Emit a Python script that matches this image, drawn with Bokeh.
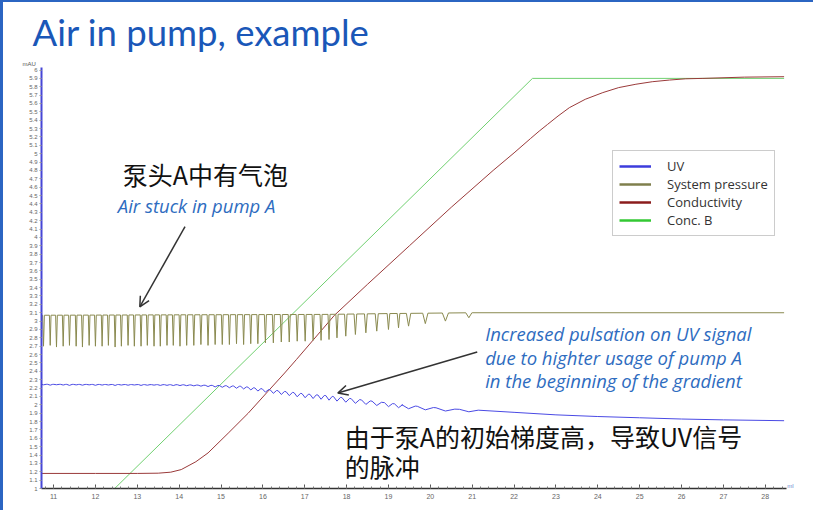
import numpy as np
from bokeh.plotting import figure
from bokeh.models import (Range1d, FixedTicker, Label, Arrow, OpenHead,
                          Legend, LegendItem, Title)
from bokeh.embed import file_html
from bokeh.resources import INLINE

# ---------------- chromatogram data (x in ml, y on the mAU scale) ----------------
# Conc. B gradient
concb_x = [10.712, 12.46, 22.44, 28.45]
concb_y = [1.0, 1.0, 5.90, 5.90]

# Conductivity
cond_x = [10.712, 12.0, 13.0, 13.5, 13.8, 14.05, 14.4, 14.69, 15.17, 15.65, 16.12,
          16.52, 16.80, 17.71, 18.5, 19.5, 20.5, 21.5, 22.0, 22.39, 22.6, 22.8,
          23.05, 23.32, 23.7, 24.12, 24.5, 24.91, 25.3, 25.71, 26.1, 26.51, 27.5, 28.45]
cond_y = [1.18, 1.18, 1.18, 1.183, 1.195, 1.226, 1.32, 1.425, 1.66, 1.90, 2.16,
          2.38, 2.54, 3.07, 3.44, 3.90, 4.36, 4.80, 5.01, 5.18, 5.27, 5.35,
          5.45, 5.55, 5.65, 5.73, 5.79, 5.83, 5.86, 5.88, 5.895, 5.90, 5.915, 5.92]

# UV trace level between pump strokes
uv_base_x = [10.712, 14.0, 15.0, 15.5, 16.0, 16.5, 17.0, 17.5, 18.0, 18.5, 19.0,
             19.5, 20.0, 20.5, 21.0, 22.0, 23.0, 24.0, 25.0, 26.0, 27.0, 28.45]
uv_base_y = [2.245, 2.24, 2.23, 2.22, 2.19, 2.16, 2.13, 2.11, 2.08, 2.05, 2.02,
             1.99, 1.97, 1.95, 1.94, 1.91, 1.88, 1.86, 1.845, 1.83, 1.82, 1.81]

# System pressure level between pump strokes
pres_base_x = [10.712, 14.0, 17.5, 19.0, 21.0, 28.45]
pres_base_y = [3.07, 3.075, 3.08, 3.09, 3.10, 3.10]

# Pump A strokes: position, lowest pressure reached, UV dip
pulse_x = [10.76, 10.92, 11.07, 11.23, 11.38, 11.54, 11.69, 11.85, 12.00, 12.16, 12.31,
           12.47, 12.62, 12.78, 12.93, 13.09, 13.24, 13.40, 13.55, 13.71, 13.86, 14.02,
           14.18, 14.35, 14.52, 14.69, 14.86, 15.03, 15.20, 15.37, 15.54, 15.71, 15.88,
           16.06, 16.25, 16.44, 16.63, 16.82, 17.01, 17.20, 17.39, 17.58, 17.77,
           17.98, 18.21, 18.46, 18.72, 19.00, 19.24, 19.48, 19.88, 20.36, 20.92]
pulse_low = [2.70, 2.71, 2.69, 2.70, 2.71, 2.70, 2.69, 2.71, 2.70, 2.70, 2.71,
             2.69, 2.70, 2.71, 2.70, 2.70, 2.71, 2.70, 2.70, 2.71, 2.71, 2.70,
             2.71, 2.71, 2.72, 2.71, 2.72, 2.72, 2.72, 2.73, 2.72, 2.73, 2.73,
             2.74, 2.74, 2.75, 2.75, 2.76, 2.76, 2.77, 2.77, 2.78, 2.80,
             2.82, 2.84, 2.86, 2.88, 2.90, 2.92, 2.94, 2.97, 3.00, 3.04]
uv_dip = [0.006, 0.010, 0.005, 0.008, 0.012, 0.006, 0.009, 0.005, 0.010, 0.007, 0.006,
          0.011, 0.006, 0.008, 0.005, 0.010, 0.007, 0.006, 0.009, 0.008, 0.010, 0.010,
          0.010, 0.010, 0.012, 0.015, 0.018, 0.020, 0.022, 0.025, 0.028, 0.030, 0.033,
          0.035, 0.038, 0.040, 0.042, 0.045, 0.045, 0.047, 0.048, 0.050, 0.050,
          0.050, 0.050, 0.048, 0.045, 0.042, 0.040, 0.038, 0.035, 0.030, 0.025]

x_ticks = [11, 12, 13, 14, 15, 16, 17, 18, 19, 20, 21, 22, 23, 24, 25, 26, 27, 28]
y_ticks = [1.0, 1.1, 1.2, 1.3, 1.4, 1.5, 1.6, 1.7, 1.8, 1.9,
           2.0, 2.1, 2.2, 2.3, 2.4, 2.5, 2.6, 2.7, 2.8, 2.9,
           3.0, 3.1, 3.2, 3.3, 3.4, 3.5, 3.6, 3.7, 3.8, 3.9,
           4.0, 4.1, 4.2, 4.3, 4.4, 4.5, 4.6, 4.7, 4.8, 4.9,
           5.0, 5.1, 5.2, 5.3, 5.4, 5.5, 5.6, 5.7, 5.8, 5.9, 6.0]

series_names = ["UV", "System pressure", "Conductivity", "Conc. B"]
series_colors = ["#3c3cdc", "#7f7f4c", "#8b1c1c", "#33c833"]
trace_colors = ["#4a4ae4", "#8a8a50", "#9a3a3a", "#70d070"]

# ---------------- build the stroke-shaped traces ----------------
pxa = np.array(pulse_x)
gaps = np.append(np.diff(pxa), np.diff(pxa)[-1])


def stroke_trace(base_x, base_y, centers, lows, half_w, relative):
    xs, ys = [], []
    first, last = centers[0] - half_w[0], centers[-1] + half_w[-1]
    for bx in base_x:
        if bx < first:
            xs.append(bx)
            ys.append(np.interp(bx, base_x, base_y))
    for c, lo, hw in zip(centers, lows, half_w):
        top_l = np.interp(c - hw, base_x, base_y)
        top_r = np.interp(c + hw, base_x, base_y)
        mid = np.interp(c, base_x, base_y) - lo if relative else lo
        xs += [c - hw, c, c + hw]
        ys += [top_l, mid, top_r]
    for bx in base_x:
        if bx > last:
            xs.append(bx)
            ys.append(np.interp(bx, base_x, base_y))
    return xs, ys


pres_x, pres_y = stroke_trace(pres_base_x, pres_base_y, pulse_x, pulse_low,
                              0.13 * gaps, relative=False)
uv_x, uv_y = stroke_trace(uv_base_x, uv_base_y, pulse_x, uv_dip,
                          0.4 * gaps, relative=True)

# ---------------- figure ----------------
X_AXIS_END = 28.506
p = figure(width=810, height=510, output_backend="svg", toolbar_location=None,
           x_range=Range1d(10.712, 28.794), y_range=Range1d(1.0, 6.03),
           min_border_left=38, min_border_right=18, min_border_top=67,
           min_border_bottom=22, background_fill_color="white",
           border_fill_color=None, outline_line_color=None)
# slide frame: solid rule on the left, thin rule along the top
p.styles = {"border-left": "3px solid #2b65c2", "box-sizing": "content-box",
            "background-color": "white", "box-shadow": "inset 0 2px 0 #2b65c2"}
p.grid.visible = False

p.line(concb_x, concb_y, line_color=trace_colors[3], line_width=1)
p.line(cond_x, cond_y, line_color=trace_colors[2], line_width=1)
p.line(pres_x, pres_y, line_color=trace_colors[1], line_width=1)
p.line(uv_x, uv_y, line_color=trace_colors[0], line_width=1)

# axes
xa = p.xaxis[0]
xa.bounds = (10.712, X_AXIS_END)
xa.ticker = FixedTicker(ticks=x_ticks,
                        minor_ticks=[t / 5 for t in range(54, 143)])
xa.axis_line_color = "#333333"
xa.axis_line_width = 1.5
xa.major_tick_in = 4
xa.major_tick_out = 0
xa.minor_tick_in = 2
xa.minor_tick_out = 0
xa.major_tick_line_color = "#555555"
xa.minor_tick_line_color = "#777777"
xa.major_label_text_font = "Liberation Sans"
xa.major_label_text_font_size = "7px"
xa.major_label_text_color = "#666666"
xa.major_label_standoff = 5

ya = p.yaxis[0]
ya.ticker = FixedTicker(ticks=y_ticks)
ya.major_label_overrides = {t: f"{t:g}" for t in y_ticks}
ya.axis_line_color = "#4646d6"
ya.axis_line_width = 2
ya.major_tick_in = 0
ya.major_tick_out = 2
ya.major_tick_line_color = "#9a9a9a"
ya.minor_tick_line_color = None
ya.major_label_text_font = "Liberation Sans"
ya.major_label_text_font_size = "6px"
ya.major_label_text_color = "#666666"
ya.major_label_standoff = 2

# legend (thicker sample lines than the traces)
items = []
for name, col in zip(series_names, series_colors):
    r = p.line([np.nan], [np.nan], line_color=col, line_width=2.5)
    items.append(LegendItem(label=name, renderers=[r]))
legend = Legend(items=items, location=(571, 252), border_line_color="#9a9a9a",
                border_line_width=1, background_fill_color="white", padding=6,
                spacing=0, margin=0, label_height=18, glyph_height=18,
                glyph_width=32, label_standoff=16,
                label_text_font="Open Sans", label_text_font_size="13px",
                label_text_color="#333333")
p.add_layout(legend)

# unit of the signal axis, then the slide heading above it
p.add_layout(Title(text="mAU", align="left", offset=-19, standoff=1,
                   text_font="Liberation Sans", text_font_size="6px",
                   text_font_style="normal", text_color="#555555"), "above")
p.add_layout(Title(text="Air in pump, example", align="left", offset=-9,
                   standoff=9, text_font="Lato", text_font_size="36.5px",
                   text_font_style="normal", text_color="#1a57b8"), "above")

# volume unit at the end of the x axis
p.add_layout(Label(x=28.60, y=1.0, text="ml", text_font="Liberation Sans",
                   text_font_size="6px", text_color="#6a8ad0",
                   text_align="center", text_baseline="bottom"))

# annotations
cjk = "Noto Sans CJK SC"
note_font = "Open Sans"
p.add_layout(Label(x=12.655, y=4.762, text="泵头A中有气泡", text_font=cjk,
                   text_font_size="25px", text_color="#111111",
                   text_baseline="middle"))
p.add_layout(Label(x=12.535, y=4.23, text="Air stuck in pump A", text_font=note_font,
                   text_font_style="italic", text_font_size="18.5px",
                   text_color="#2e6cc0"))
for i, line in enumerate(["Increased pulsation on UV signal",
                          "due to highter usage of pump A",
                          "in the beginning of the gradient"]):
    p.add_layout(Label(x=21.31, y=2.702 - i * 0.281, text=line, text_font=note_font,
                       text_font_style="italic", text_font_size="18.5px",
                       text_color="#2e6cc0"))
p.add_layout(Label(x=17.954, y=1.631, text="由于泵A的初始梯度高，导致UV信号",
                   text_font=cjk, text_font_size="25px", text_color="#111111",
                   text_baseline="middle"))
p.add_layout(Label(x=17.954, y=1.274, text="的脉冲", text_font=cjk,
                   text_font_size="25px", text_color="#111111",
                   text_baseline="middle"))

head = dict(size=10, line_color="#333333", line_width=1.5)
p.add_layout(Arrow(end=OpenHead(**head), x_start=14.14, y_start=4.13,
                   x_end=13.06, y_end=3.17, line_color="#333333", line_width=1.5))
p.add_layout(Arrow(end=OpenHead(**head), x_start=21.12, y_start=2.63,
                   x_end=17.79, y_end=2.14, line_color="#333333", line_width=1.5))

open("out.html", "w").write(file_html(p, INLINE))
